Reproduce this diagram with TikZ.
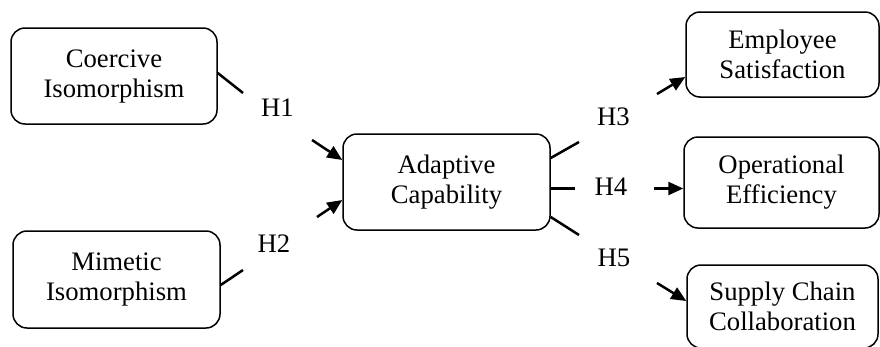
\documentclass[tikz,border=0pt]{standalone}
\usepackage{fontspec}
\setmainfont{Liberation Serif}
\usetikzlibrary{arrows.meta}

\tikzset{
  box/.style={draw, line width=1.5pt, rounded corners=14pt, inner sep=0pt,
    align=center, font=\fontsize{26.7}{30}\selectfont},
  hyp/.style={inner sep=0pt, font=\fontsize{26.7}{30}\selectfont},
  link/.style={line width=2.5pt},
  arr/.style={line width=2.5pt, -{Triangle[length=15pt,width=13pt]}}
}

\begin{document}
\begin{tikzpicture}[x=1pt,y=-1pt]
\useasboundingbox (0,0) rectangle (880,346);

% constructs
\node[box, minimum width=206pt, minimum height=96pt] (coe) at (114,76) {Coercive\\Isomorphism};
\node[box, minimum width=207pt, minimum height=97pt] (mim) at (116.5,279.5) {Mimetic\\Isomorphism};
\node[box, minimum width=207pt, minimum height=96pt] (ada) at (446.5,182) {Adaptive\\Capability};
\node[box, minimum width=193pt, minimum height=85pt] (emp) at (782.5,54.5) {Employee\\Satisfaction};
\node[box, minimum width=195pt, minimum height=91pt] (ope) at (781.5,182.5) {Operational\\Efficiency};
\node[box, minimum width=191pt, minimum height=83pt] (sup) at (782.5,306.5) {Supply Chain\\Collaboration};

% hypothesis labels
\node[hyp] (h1) at (277.5,108) {H1};
\node[hyp] (h2) at (274,243.5) {H2};
\node[hyp] (h3) at (613.5,117) {H3};
\node[hyp] (h4) at (611,187) {H4};
\node[hyp] (h5) at (614,257.5) {H5};

% ends of the broken paths around each label
\coordinate (h1a) at (243,93);   \coordinate (h1b) at (312,140);
\coordinate (h2a) at (243,270);  \coordinate (h2b) at (317,217);
\coordinate (h3a) at (579,142);  \coordinate (h3b) at (657,94);
\coordinate (h4a) at (575,188.5);\coordinate (h4b) at (654,188.5);
\coordinate (h5a) at (579,235);  \coordinate (h5b) at (657,283);

% H1
\draw[link] ([yshift=3pt]coe.east) -- (h1a);
\draw[arr] (h1b) -- ([yshift=22pt]ada.west);
% H2
\draw[link] ([yshift=-5.5pt]mim.east) -- (h2a);
\draw[arr] (h2b) -- ([yshift=-18pt]ada.west);
% H3
\draw[link] ([yshift=24pt]ada.east) -- (h3a);
\draw[arr] (h3b) -- ([yshift=-22.5pt]emp.west);
% H4
\draw[link] ([yshift=-6.5pt]ada.east) -- (h4a);
\draw[arr] (h4b) -- ([yshift=-6pt]ope.west);
% H5
\draw[link] ([yshift=-35pt]ada.east) -- (h5a);
\draw[arr] (h5b) -- ([yshift=5.5pt]sup.west);
\end{tikzpicture}
\end{document}
